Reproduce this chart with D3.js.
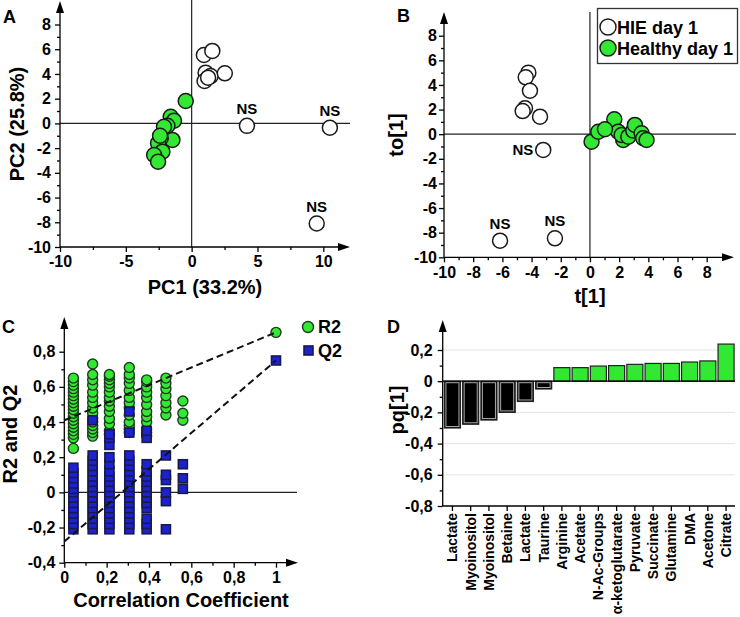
<!DOCTYPE html>
<html><head><meta charset="utf-8">
<script src="https://cdn.jsdelivr.net/npm/d3@7"></script>
<style>body{margin:0;background:#fff}</style>
</head><body><svg id="c" width="740" height="617"></svg>
<script>
// ---------- DATA ----------
// Panel A (PCA scores)
const aHieX = [0.93, 1.57, 1.06, 1.44, 0.98, 2.52, 1.25];
const aHieY = [5.53, 5.86, 4.10, 3.83, 3.43, 4.05, 3.70];
const aNsX = [4.2, 10.5, 9.5];
const aNsY = [-0.2, -0.35, -8.1];
const aHealthyX = [-0.45, -1.59, -1.34, -1.84, -2.10, -1.46, -2.35, -2.55, -2.22, -2.85, -2.55, -2.40];
const aHealthyY = [1.81, 0.54, 0.22, -0.19, -0.27, -1.34, -1.20, -1.60, -2.29, -2.56, -3.10, -1.00];
const aXTicks = [-10, -5, 0, 5, 10];
const aXMinor = [-7.5, -2.5, 2.5, 7.5];
const aYTicks = [-10, -8, -6, -4, -2, 0, 2, 4, 6, 8];
const aYMinor = [-9, -7, -5, -3, -1, 1, 3, 5, 7];

// Panel B (OPLS-DA scores)
const bHieX = [-4.22, -4.40, -4.11, -4.45, -4.61, -3.42];
const bHieY = [5.00, 4.62, 3.53, 2.10, 1.88, 1.42];
const bNsX = [-3.2, -6.16, -2.4];
const bNsY = [-1.28, -8.65, -8.46];
const bHealthyX = [0.11, 0.57, 1.67, 1.94, 2.28, 2.17, 2.63, 2.97, 3.08, 3.54, 3.65, 3.88, 1.03];
const bHealthyY = [-0.61, 0.20, 1.21, 0.20, -0.47, -0.07, -0.20, 0.29, 0.75, 0.07, -0.33, -0.47, 0.40];
const bXTicks = [-10, -8, -6, -4, -2, 0, 2, 4, 6, 8];
const bXMinor = [-9, -7, -5, -3, -1, 1, 3, 5, 7];
const bYTicks = [-10, -8, -6, -4, -2, 0, 2, 4, 6, 8];
const bYMinor = [-9, -7, -5, -3, -1, 1, 3, 5, 7];
const legendLabels = ["HIE day 1", "Healthy day 1"];

// Panel C (permutation test)
const permX = [0.043, 0.134, 0.213, 0.307, 0.389, 0.48, 0.56, 1.0];
const r2Cols = [
  [0.25, 0.31, 0.33, 0.35, 0.37, 0.39, 0.41, 0.43, 0.45, 0.47, 0.49, 0.51, 0.53, 0.55, 0.57, 0.59, 0.61, 0.63, 0.65],
  [0.32, 0.34, 0.36, 0.38, 0.40, 0.42, 0.45, 0.48, 0.51, 0.54, 0.57, 0.61, 0.64, 0.67, 0.73],
  [0.33, 0.35, 0.39, 0.42, 0.46, 0.49, 0.52, 0.54, 0.57, 0.60, 0.62, 0.64, 0.66, 0.67],
  [0.34, 0.36, 0.38, 0.40, 0.44, 0.48, 0.51, 0.54, 0.58, 0.62, 0.65, 0.67, 0.71],
  [0.32, 0.34, 0.36, 0.40, 0.43, 0.46, 0.50, 0.54, 0.57, 0.60, 0.63, 0.64],
  [0.44, 0.48, 0.51, 0.55, 0.59, 0.62, 0.65],
  [0.41, 0.45, 0.52],
  [0.91]
];
const q2Cols = [
  [-0.21, -0.18, -0.15, -0.12, -0.09, -0.06, -0.03, 0.00, 0.02, 0.05, 0.08, 0.11, 0.14],
  [-0.21, -0.18, -0.15, -0.12, -0.09, -0.06, -0.03, 0.00, 0.03, 0.06, 0.09, 0.12, 0.15, 0.18, 0.21, 0.41],
  [-0.21, -0.18, -0.15, -0.12, -0.09, -0.06, -0.03, 0.00, 0.03, 0.06, 0.09, 0.12, 0.16, 0.20, 0.27, 0.31, 0.33],
  [-0.21, -0.18, -0.15, -0.12, -0.09, -0.06, -0.03, 0.00, 0.03, 0.06, 0.09, 0.12, 0.15, 0.18, 0.21, 0.34, 0.46],
  [-0.21, -0.18, -0.15, -0.09, -0.06, -0.03, 0.00, 0.03, 0.06, 0.09, 0.12, 0.16, 0.31, 0.35],
  [-0.21, -0.05, 0.00, 0.07, 0.10, 0.21],
  [0.02, 0.08, 0.16],
  [0.75]
];
const r2Line = [[0, 0.41], [1, 0.91]];
const q2Line = [[0, -0.28], [1, 0.75]];
const cXTicks = [0, 0.2, 0.4, 0.6, 0.8, 1];
const cXMinor = [0.1, 0.3, 0.5, 0.7, 0.9];
const cYTicks = [-0.4, -0.2, 0, 0.2, 0.4, 0.6, 0.8];
const cYMinor = [-0.3, -0.1, 0.1, 0.3, 0.5, 0.7];

// Panel D (loadings)
const metabolites = ["Lactate", "Myoinositol", "Myoinositol", "Betaine", "Lactate", "Taurine", "Arginine", "Acetate",
  "N-Ac-Groups", "α-ketoglutarate", "Pyruvate", "Succinate", "Glutamine", "DMA", "Acetone", "Citrate"];
const pq = [-0.30, -0.276, -0.249, -0.20, -0.13, -0.05, 0.087, 0.087, 0.097, 0.10, 0.108, 0.114, 0.114, 0.123, 0.13, 0.238];
const dYTicks = [-0.8, -0.6, -0.4, -0.2, 0, 0.2];
const dYMinor = [-0.7, -0.5, -0.3, -0.1, 0.1];
const dGrid = [-0.6, -0.4, -0.2, 0.2];

// ---------- DRAWING ----------
const FONT = "'Liberation Sans', Arial, Helvetica, sans-serif";
const GREEN = "#33e833";
const TICK_FS = 16;
const svg = d3.select("#c");
svg.append("rect").attr("width", 740).attr("height", 617).attr("fill", "#fff");

const comma = d => (d === 0 ? "0" : (Number.isInteger(d) ? String(d) : String(Math.round(d * 10) / 10).replace(".", ",")));
const plain = d => String(d);

function styleAxis(sel, fs) {
  sel.select(".domain").remove();
  sel.selectAll("line").attr("stroke", "#000").attr("stroke-width", 1.3);
  sel.selectAll("text").attr("font-family", FONT).attr("font-weight", "bold").attr("font-size", fs).attr("fill", "#000");
}
function line(g, x1, y1, x2, y2, w, c) {
  return g.append("line").attr("x1", x1).attr("y1", y1).attr("x2", x2).attr("y2", y2)
    .attr("stroke", c || "#000").attr("stroke-width", w || 1.3);
}
function arrowUp(g, x, tip) {
  g.append("path").attr("d", `M${x},${tip} L${x - 4},${tip + 12} L${x + 4},${tip + 12}Z`).attr("fill", "#000");
}
function arrowRight(g, tip, y) {
  g.append("path").attr("d", `M${tip},${y} L${tip - 12},${y - 4} L${tip - 12},${y + 4}Z`).attr("fill", "#000");
}
function label(g, txt, x, y, fs, anchor, rot) {
  const t = g.append("text").text(txt).attr("font-family", FONT).attr("font-weight", "bold")
    .attr("font-size", fs).attr("fill", "#000").attr("text-anchor", anchor || "middle");
  if (rot) t.attr("transform", `translate(${x},${y}) rotate(${rot})`);
  else t.attr("x", x).attr("y", y);
  return t;
}
function xAxes(g, sc, y, major, minor, fmt, pad) {
  g.append("g").attr("transform", `translate(0,${y})`)
    .call(d3.axisBottom(sc).tickValues(major).tickSize(5).tickPadding(pad).tickFormat(fmt)).call(s => styleAxis(s, TICK_FS));
  g.append("g").attr("transform", `translate(0,${y})`)
    .call(d3.axisBottom(sc).tickValues(minor).tickSize(3).tickFormat("")).call(s => styleAxis(s, TICK_FS));
}
function yAxes(g, sc, x, major, minor, fmt, pad) {
  g.append("g").attr("transform", `translate(${x},0)`)
    .call(d3.axisLeft(sc).tickValues(major).tickSize(5).tickPadding(pad).tickFormat(fmt)).call(s => styleAxis(s, TICK_FS));
  g.append("g").attr("transform", `translate(${x},0)`)
    .call(d3.axisLeft(sc).tickValues(minor).tickSize(3).tickFormat("")).call(s => styleAxis(s, TICK_FS));
}

// ===== Panel A =====
{
  const g = svg.append("g");
  const x = d3.scaleLinear().domain([-10, 10]).range([60, 323.3]);
  const y = d3.scaleLinear().domain([-10, 8]).range([247, 24.5]);
  line(g, x(0), 0, x(0), y(-10), 1.2, "#222");
  line(g, x(-10), y(0), 350, y(0), 1.2, "#222");
  xAxes(g, x, y(-10), aXTicks, aXMinor, plain, 4);
  yAxes(g, y, x(-10), aYTicks, aYMinor, plain, 4);
  line(g, x(-10), y(-10), 340, y(-10));
  arrowRight(g, 350, y(-10));
  line(g, x(-10), y(-10), x(-10), 10);
  arrowUp(g, x(-10), 1);
  const hie = aHieX.map((v, i) => [v, aHieY[i]]).concat(aNsX.map((v, i) => [v, aNsY[i]]));
  g.selectAll(".ah").data(hie).join("circle").attr("cx", d => x(d[0])).attr("cy", d => y(d[1])).attr("r", 7.5)
    .attr("fill", "#fff").attr("stroke", "#1a1a1a").attr("stroke-width", 1.5);
  g.selectAll(".ag").data(aHealthyX.map((v, i) => [v, aHealthyY[i]])).join("circle")
    .attr("cx", d => x(d[0])).attr("cy", d => y(d[1])).attr("r", 7.5)
    .attr("fill", GREEN).attr("stroke", "#1a1a1a").attr("stroke-width", 1.5);
  aNsX.forEach((v, i) => label(g, "NS", x(v), y(aNsY[i]) - 12, 15));
  label(g, "PC1 (33.2%)", 205, 294, 20);
  label(g, "PC2 (25.8%)", 24, 124, 20, "middle", -90);
  label(g, "A", 3, 23, 18, "start");
}

// ===== Panel B =====
{
  const g = svg.append("g");
  const x = d3.scaleLinear().domain([-10, 8]).range([444, 706.7]);
  const y = d3.scaleLinear().domain([-10, 8]).range([257.3, 35.7]);
  line(g, x(0), 12, x(0), y(-10), 1.2, "#222");
  line(g, x(-10), y(0), 736, y(0), 1.2, "#222");
  xAxes(g, x, y(-10), bXTicks, bXMinor, plain, 4);
  yAxes(g, y, x(-10), bYTicks, bYMinor, plain, 2);
  line(g, x(-10), y(-10), 724, y(-10));
  arrowRight(g, 734, y(-10));
  line(g, x(-10), y(-10), x(-10), 22);
  arrowUp(g, x(-10), 12);
  const hie = bHieX.map((v, i) => [v, bHieY[i]]).concat(bNsX.map((v, i) => [v, bNsY[i]]));
  g.selectAll(".bh").data(hie).join("circle").attr("cx", d => x(d[0])).attr("cy", d => y(d[1])).attr("r", 7.5)
    .attr("fill", "#fff").attr("stroke", "#1a1a1a").attr("stroke-width", 1.5);
  g.selectAll(".bg").data(bHealthyX.map((v, i) => [v, bHealthyY[i]])).join("circle")
    .attr("cx", d => x(d[0])).attr("cy", d => y(d[1])).attr("r", 7.5)
    .attr("fill", GREEN).attr("stroke", "#1a1a1a").attr("stroke-width", 1.5);
  label(g, "NS", x(bNsX[0]) - 10, y(bNsY[0]) + 5, 15, "end");
  label(g, "NS", x(bNsX[1]), y(bNsY[1]) - 12, 15);
  label(g, "NS", x(bNsX[2]), y(bNsY[2]) - 12, 15);
  label(g, "t[1]", 590, 303, 20);
  label(g, "to[1]", 403, 135, 20, "middle", -90);
  label(g, "B", 397, 22, 18, "start");
  // legend
  g.append("rect").attr("x", 597.5).attr("y", 8.5).attr("width", 140).attr("height", 55)
    .attr("fill", "#fff").attr("stroke", "#333").attr("stroke-width", 1.3);
  [0, 1].forEach(i => {
    g.append("circle").attr("cx", 608).attr("cy", 27 + i * 21).attr("r", 8)
      .attr("fill", i ? GREEN : "#fff").attr("stroke", "#1a1a1a").attr("stroke-width", 1.5);
    label(g, legendLabels[i], 617, 33.5 + i * 21, 18, "start");
  });
}

// ===== Panel C =====
{
  const g = svg.append("g");
  const x = d3.scaleLinear().domain([0, 1]).range([64.3, 276]);
  const y = d3.scaleLinear().domain([-0.4, 0.8]).range([562.7, 351.7]);
  line(g, x(0), y(0), 297, y(0), 1.2, "#222");
  xAxes(g, x, y(-0.4), cXTicks, cXMinor, comma, 4);
  yAxes(g, y, x(0), cYTicks, cYMinor, comma, 4);
  line(g, x(0), y(-0.4), 288, y(-0.4));
  arrowRight(g, 298, y(-0.4));
  line(g, x(0), y(-0.4), x(0), 327);
  arrowUp(g, x(0), 317);
  const r2 = [], q2 = [];
  permX.forEach((px, i) => { r2Cols[i].forEach(v => r2.push([px, v])); q2Cols[i].forEach(v => q2.push([px, v])); });
  g.selectAll(".r2").data(r2).join("circle").attr("cx", d => x(d[0])).attr("cy", d => y(d[1])).attr("r", 5)
    .attr("fill", GREEN).attr("stroke", "#1f3a1f").attr("stroke-width", 1.4);
  g.selectAll(".q2").data(q2).join("rect").attr("x", d => x(d[0]) - 4.5).attr("y", d => y(d[1]) - 4.5)
    .attr("width", 9).attr("height", 9)
    .attr("fill", "#1c22d0").attr("stroke", "#1a1a4a").attr("stroke-width", 1.6);
  const ln = d3.line().x(d => x(d[0])).y(d => y(d[1]));
  [r2Line, q2Line].forEach(L => g.append("path").attr("d", ln(L)).attr("fill", "none")
    .attr("stroke", "#111").attr("stroke-width", 2).attr("stroke-dasharray", "7,4"));
  // legend
  g.append("circle").attr("cx", 308).attr("cy", 327).attr("r", 5.5).attr("fill", GREEN).attr("stroke", "#1f3a1f").attr("stroke-width", 1.4);
  label(g, "R2", 318, 333, 18, "start");
  g.append("rect").attr("x", 304).attr("y", 346).attr("width", 9).attr("height", 9).attr("fill", "#1c22d0").attr("stroke", "#1a1a4a").attr("stroke-width", 1.6);
  label(g, "Q2", 318, 357, 18, "start");
  label(g, "Correlation Coefficient", 181, 607, 20);
  label(g, "R2 and Q2", 17, 434, 20, "middle", -90);
  label(g, "C", 2, 333, 18, "start");
}

// ===== Panel D =====
{
  const g = svg.append("g");
  const x = d3.scaleBand().domain(d3.range(metabolites.length)).range([443.5, 735]).paddingInner(0.12).paddingOuter(0.05);
  const y = d3.scaleLinear().domain([-0.8, 0.2]).range([506, 350]);
  dGrid.forEach(v => line(g, 443, y(v), 735, y(v), 1, "#e4e4e4"));
  yAxes(g, y, 442.7, dYTicks, dYMinor, comma, 5);
  line(g, 442.7, y(-0.8), 735, y(-0.8));
  line(g, 442.7, y(-0.8), 442.7, 330);
  arrowUp(g, 442.7, 320);
  const gx = g.append("g").attr("transform", `translate(0,${y(-0.8)})`)
    .call(d3.axisBottom(x).tickSize(5).tickFormat(""));
  styleAxis(gx, 14);
  // bars
  g.selectAll(".bar").data(pq).join("rect")
    .attr("x", (d, i) => x(i)).attr("width", x.bandwidth())
    .attr("y", d => y(Math.max(0, d))).attr("height", d => Math.abs(y(d) - y(0)))
    .attr("fill", d => d < 0 ? "#000" : GREEN)
    .attr("stroke", "#222").attr("stroke-width", 1.2);
  g.selectAll(".inner").data(pq.map((v, i) => [v, i]).filter(d => d[0] < 0)).join("rect")
    .attr("x", d => x(d[1]) + 1.5).attr("width", x.bandwidth() - 3)
    .attr("y", y(0) + 1.5).attr("height", d => Math.max(0, y(d[0]) - y(0) - 3))
    .attr("fill", "#000").attr("stroke", "#aaa").attr("stroke-width", 1);
  line(g, 442.7, y(0), 735, y(0), 1.3, "#000");
  metabolites.forEach((m, i) => label(g, m, x(i) + x.bandwidth() / 2 + 5, 513, 14, "end", -90));
  label(g, "pq[1]", 404, 410, 20, "middle", -90);
  label(g, "D", 387, 333, 18, "start");
}
</script>
</body></html>
